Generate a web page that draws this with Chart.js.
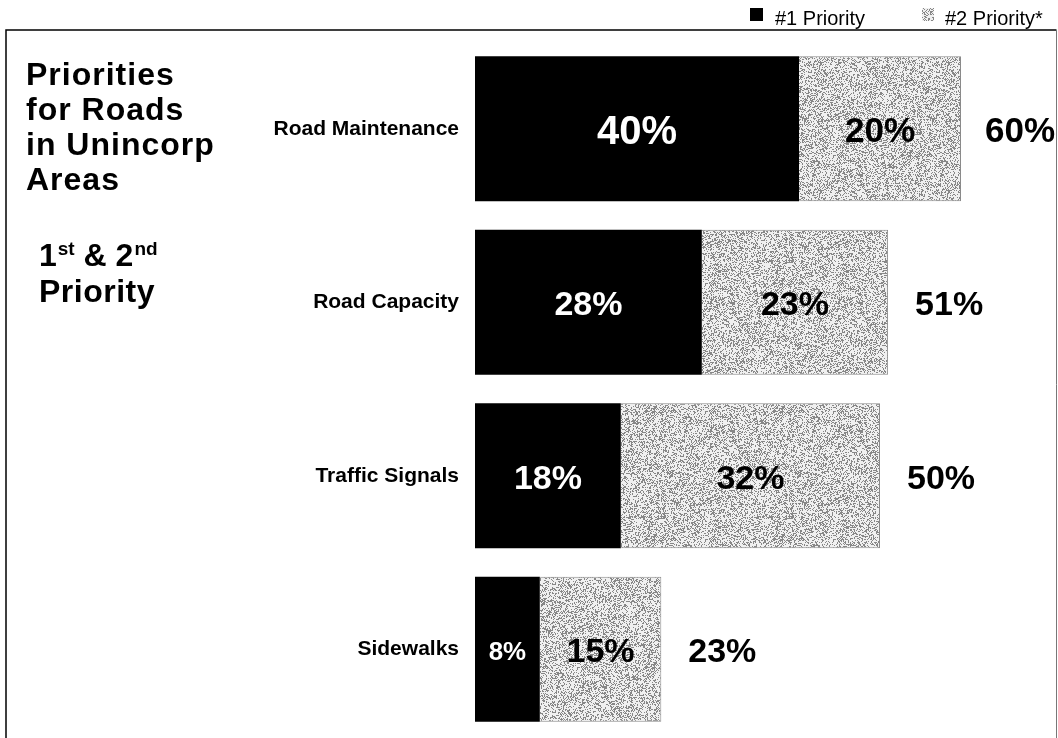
<!DOCTYPE html>
<html>
<head>
<meta charset="utf-8">
<script src="https://cdn.jsdelivr.net/npm/chart.js@4.4.1/dist/chart.umd.min.js"></script>
<style>
  html, body { margin: 0; padding: 0; background: #fff; }
  #wrap { position: relative; width: 1058px; height: 738px; overflow: hidden; }
  canvas { display: block; }
</style>
</head>
<body>
<div id="wrap"><canvas id="c" width="1058" height="738"></canvas></div>
<script>
// ---- data ----
const categories = ['Road Maintenance', 'Road Capacity', 'Traffic Signals', 'Sidewalks'];
const priority1 = [40, 28, 18, 8];
const priority2 = [20, 23, 32, 15];
const seriesNames = ['#1 Priority', '#2 Priority*'];
const titleLines = ['Priorities', 'for Roads', 'in Unincorp', 'Areas'];
const subtitleParts = [['1', 'st'], [' & 2', 'nd']];
const subtitleLine2 = 'Priority';
const xMax = 70;

// ---- styles ----
const FONT = '"Liberation Sans", Arial, Helvetica, sans-serif';
const labelSizes = [[40, 34, 34, 34], [35, 34, 34, 34]];
const totalSizes = [35, 34, 34, 34];

function hash(x, y) {
  let h = (x * 374761393 + y * 668265263) | 0;
  h = Math.imul(h ^ (h >>> 13), 1274126177);
  h = h ^ (h >>> 16);
  return (h >>> 0) / 4294967296;
}
function makeStipple() {
  const N = 128;
  const c = document.createElement('canvas');
  c.width = N; c.height = N;
  const g = c.getContext('2d');
  const img = g.createImageData(N, N);
  for (let y = 0; y < N; y++) {
    for (let x = 0; x < N; x++) {
      const dark = hash(x, y) < 0.36;
      const v = dark ? 135 : 240;
      const i = (y * N + x) * 4;
      img.data[i] = v; img.data[i + 1] = v; img.data[i + 2] = v; img.data[i + 3] = 255;
    }
  }
  g.putImageData(img, 0, 0);
  return document.getElementById('c').getContext('2d').createPattern(c, 'repeat');
}
const stipple = makeStipple();

const decor = {
  id: 'decor',
  beforeDraw(chart) {
    const ctx = chart.ctx;
    ctx.save();
    ctx.fillStyle = '#fff';
    ctx.fillRect(0, 0, chart.width, chart.height);
    ctx.strokeStyle = '#000';
    ctx.lineWidth = 1.5;
    ctx.beginPath();
    ctx.moveTo(6, 745);
    ctx.lineTo(6, 30);
    ctx.lineTo(1056.5, 30);
    ctx.stroke();
    ctx.strokeStyle = '#777';
    ctx.lineWidth = 1;
    ctx.beginPath();
    ctx.moveTo(1056.5, 30);
    ctx.lineTo(1056.5, 745);
    ctx.stroke();
    ctx.restore();
  },
  afterDatasetsDraw(chart) {
    const ctx = chart.ctx;
    ctx.save();
    const m0 = chart.getDatasetMeta(0);
    const m1 = chart.getDatasetMeta(1);
    const ds = chart.data.datasets;
    for (let i = 0; i < categories.length; i++) {
      [m0, m1].forEach((meta, di) => {
        const bar = meta.data[i];
        const w = Math.abs(bar.x - bar.base);
        const fs = Math.min(labelSizes[di][i], w * 0.4);
        ctx.font = 'bold ' + fs + 'px ' + FONT;
        ctx.fillStyle = di === 0 ? '#fff' : '#000';
        ctx.textAlign = 'center';
        ctx.textBaseline = 'alphabetic';
        ctx.fillText(ds[di].data[i] + '%', (bar.x + bar.base) / 2, bar.y + fs * 0.358 + 1);
      });
      const end = m1.data[i].x;
      const total = priority1[i] + priority2[i];
      const size = totalSizes[i];
      ctx.font = 'bold ' + size + 'px ' + FONT;
      ctx.fillStyle = '#000';
      ctx.textAlign = 'left';
      const txt = total + '%';
      const tw = ctx.measureText(txt).width;
      const x = Math.min(end + 27, 1055 - tw);
      ctx.fillText(txt, x, m1.data[i].y + size * 0.358 + 1);
    }
    ctx.restore();
  },
  afterDraw(chart) {
    const ctx = chart.ctx;
    ctx.save();
    ctx.fillStyle = '#000';
    ctx.textAlign = 'left';
    ctx.textBaseline = 'alphabetic';
    ctx.font = 'bold 32px ' + FONT;
    ctx.letterSpacing = '1px';
    const base = [85, 120, 155, 190];
    titleLines.forEach((t, k) => ctx.fillText(t, 26, base[k]));
    ctx.letterSpacing = '0px';
    let x = 39;
    const yb = 266;
    subtitleParts.forEach(([main, sup]) => {
      ctx.font = 'bold 32px ' + FONT;
      ctx.fillText(main, x, yb);
      x += ctx.measureText(main).width;
      ctx.font = 'bold 19px ' + FONT;
      ctx.fillText(sup, x + 1, yb - 11);
      x += ctx.measureText(sup).width + 1;
    });
    ctx.font = 'bold 32px ' + FONT;
    ctx.letterSpacing = '0.5px';
    ctx.fillText(subtitleLine2, 39, 302);
    ctx.letterSpacing = '0px';
    ctx.font = '20px ' + FONT;
    ctx.fillStyle = '#000';
    ctx.fillRect(750, 8, 13, 13);
    ctx.fillText(seriesNames[0], 775, 25);
    ctx.fillStyle = stipple;
    ctx.fillRect(922, 8, 12, 13);
    ctx.fillStyle = '#000';
    ctx.fillText(seriesNames[1], 945, 25);
    ctx.restore();
  }
};

new Chart(document.getElementById('c'), {
  type: 'bar',
  data: {
    labels: categories,
    datasets: [
      { label: seriesNames[0], data: priority1, backgroundColor: '#000',
        barPercentage: 0.836, categoryPercentage: 1, borderWidth: 0 },
      { label: seriesNames[1], data: priority2, backgroundColor: stipple,
        borderColor: '#8a8a8a', borderWidth: { top: 1, right: 1, bottom: 1, left: 0 },
        borderSkipped: false,
        barPercentage: 0.836, categoryPercentage: 1 }
    ]
  },
  options: {
    indexAxis: 'y',
    responsive: false,
    animation: false,
    devicePixelRatio: 1,
    layout: { padding: { left: 0, right: 16, top: 42, bottom: 2 } },
    plugins: { legend: { display: false }, tooltip: { enabled: false } },
    scales: {
      x: { stacked: true, min: 0, max: xMax, display: false },
      y: {
        stacked: true,
        grid: { display: false, drawTicks: false },
        border: { display: false },
        ticks: { padding: 16, color: '#000', font: { family: FONT, size: 21, weight: 'bold' } },
        afterFit(scale) { scale.width = 475; scale.paddingTop = 0; scale.paddingBottom = 0; }
      }
    }
  },
  plugins: [decor]
});
</script>
</body>
</html>
